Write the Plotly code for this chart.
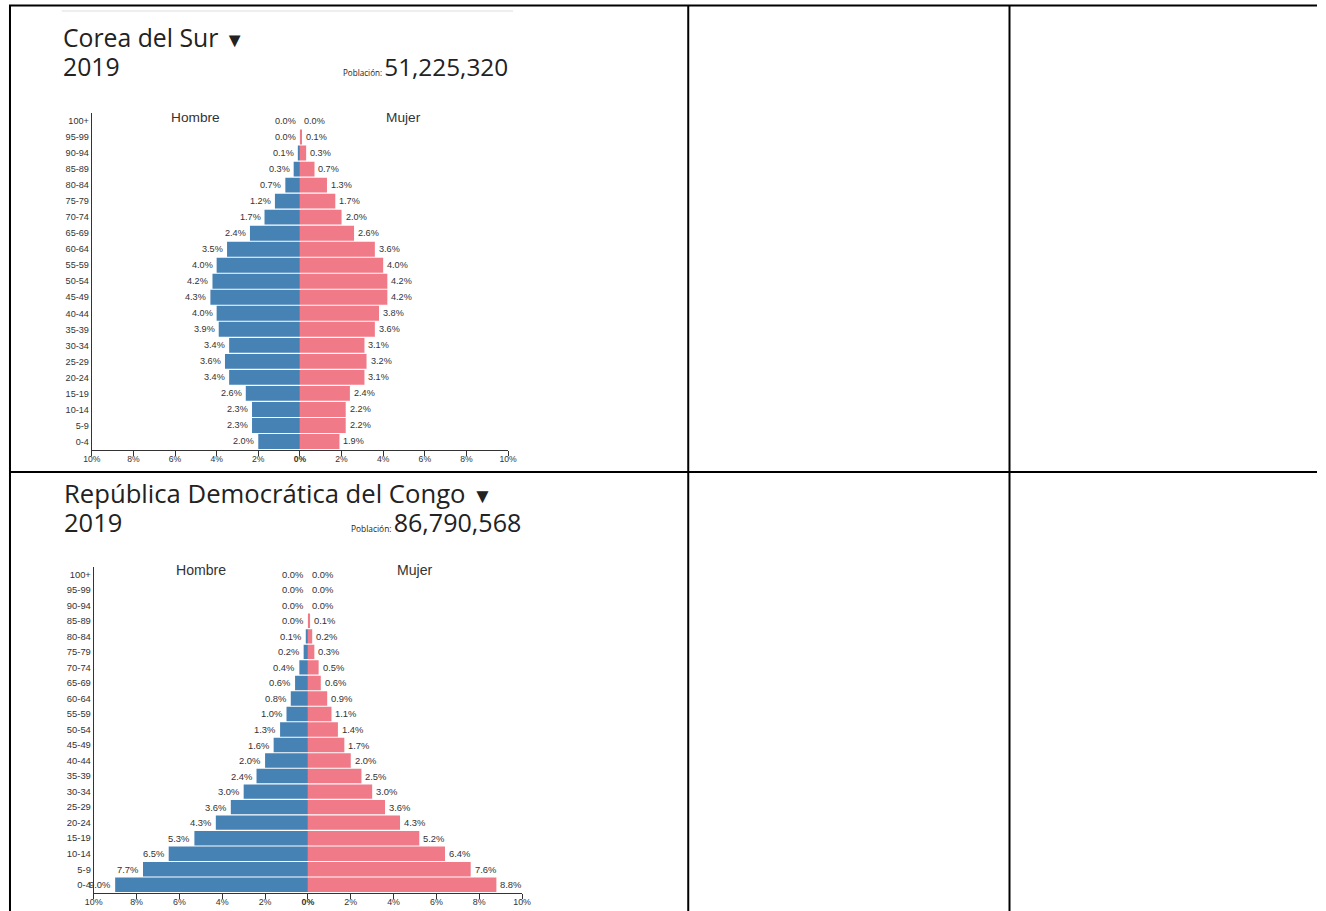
import plotly.graph_objects as go

W, H = 1326, 911

# ---------------- data (bottom row "0-4" first, up to "100+") ----------------
age_groups = ["0-4", "5-9", "10-14", "15-19", "20-24", "25-29", "30-34", "35-39",
              "40-44", "45-49", "50-54", "55-59", "60-64", "65-69", "70-74",
              "75-79", "80-84", "85-89", "90-94", "95-99", "100+"]

korea_male = [2.0, 2.3, 2.3, 2.6, 3.4, 3.6, 3.4, 3.9, 4.0, 4.3, 4.2, 4.0, 3.5, 2.4,
              1.7, 1.2, 0.7, 0.3, 0.1, 0.0, 0.0]
korea_female = [1.9, 2.2, 2.2, 2.4, 3.1, 3.2, 3.1, 3.6, 3.8, 4.2, 4.2, 4.0, 3.6, 2.6,
                2.0, 1.7, 1.3, 0.7, 0.3, 0.1, 0.0]

congo_male = [9.0, 7.7, 6.5, 5.3, 4.3, 3.6, 3.0, 2.4, 2.0, 1.6, 1.3, 1.0, 0.8, 0.6,
              0.4, 0.2, 0.1, 0.0, 0.0, 0.0, 0.0]
congo_female = [8.8, 7.6, 6.4, 5.2, 4.3, 3.6, 3.0, 2.5, 2.0, 1.7, 1.4, 1.1, 0.9, 0.6,
                0.5, 0.3, 0.2, 0.1, 0.0, 0.0, 0.0]

countries = ["Corea del Sur", "República Democrática del Congo"]
years = ["2019", "2019"]
populations = ["51,225,320", "86,790,568"]

tick_vals = [-10, -8, -6, -4, -2, 0, 2, 4, 6, 8, 10]
tick_text = ["10%", "8%", "6%", "4%", "2%", "<b>0%</b>", "2%", "4%", "6%", "8%", "10%"]

MALE_COLOR = "#4682B4"
FEMALE_COLOR = "#F07A88"
TEXT_COLOR = "#333333"
AXIS_COLOR = "#333333"
LABEL_FONT = "Liberation Sans, Arial, sans-serif"
TITLE_FONT = "Open Sans, sans-serif"

# the photographed page is squeezed slightly in x; place things so they land
# at the intended horizontal pixel positions
SX, OX = 0.9856, 9.33
FS = 1 / SX  # font widening to compensate


def px_x(x):
    fx = (x - OX) / SX
    return min(max(fx, 0), W) / W


def px_y(y):
    return 1 - y / H


# pixel layout of each pyramid and its header; "k" = text scale of the panel
panels = [
    dict(xdom=(92, 508), ydom=(113, 449.5), title_x=61, title_y=37, year_y=67,
         pop_right=510, k=1.0, kt=1.0),
    dict(xdom=(94, 522), ydom=(566.5, 892.5), title_x=62, title_y=493, year_y=522,
         pop_right=522.5, k=1.03, kt=1.037),
]

fig = go.Figure()
annotations = []
shapes = []

series = [(korea_male, korea_female), (congo_male, congo_female)]

for i, (panel, (male, female)) in enumerate(zip(panels, series)):
    k = panel["k"]
    kt = panel["kt"]
    xa = "x" if i == 0 else "x2"
    ya = "y" if i == 0 else "y2"
    fig.add_trace(go.Bar(
        y=age_groups, x=[-v for v in male], orientation="h",
        marker=dict(color=MALE_COLOR, line=dict(width=0)),
        xaxis=xa, yaxis=ya, showlegend=False, hoverinfo="skip",
    ))
    fig.add_trace(go.Bar(
        y=age_groups, x=female, orientation="h",
        marker=dict(color=FEMALE_COLOR, line=dict(width=0)),
        xaxis=xa, yaxis=ya, showlegend=False, hoverinfo="skip",
    ))
    # value labels
    for age, m, f in zip(age_groups, male, female):
        annotations.append(dict(
            x=-m, y=age, xref=xa, yref=ya, text=f"{m:.1f}%", showarrow=False,
            xanchor="right", yanchor="middle", xshift=-2,
            font=dict(family=LABEL_FONT, size=9 * k * FS, color=TEXT_COLOR)))
        annotations.append(dict(
            x=f, y=age, xref=xa, yref=ya, text=f"{f:.1f}%", showarrow=False,
            xanchor="left", yanchor="middle", xshift=2,
            font=dict(family=LABEL_FONT, size=9 * k * FS, color=TEXT_COLOR)))
    # Hombre / Mujer headers
    annotations.append(dict(
        x=-5, y=age_groups[-1], xref=xa, yref=ya, text="Hombre", showarrow=False,
        xanchor="center", yanchor="middle", yshift=4,
        font=dict(family=LABEL_FONT, size=13.5 * k * FS, color=TEXT_COLOR)))
    annotations.append(dict(
        x=5, y=age_groups[-1], xref=xa, yref=ya, text="Mujer", showarrow=False,
        xanchor="center", yanchor="middle", yshift=4,
        font=dict(family=LABEL_FONT, size=13.5 * k * FS, color=TEXT_COLOR)))
    # header texts
    annotations.append(dict(
        x=px_x(panel["title_x"]), y=px_y(panel["title_y"]), xref="paper", yref="paper",
        text=countries[i] + f" <span style='font-size:{20 * k:.1f}px'>▼</span>",
        showarrow=False, xanchor="left", yanchor="middle",
        font=dict(family=TITLE_FONT, size=24.4 * kt * FS, color="#222222")))
    annotations.append(dict(
        x=px_x(panel["title_x"]), y=px_y(panel["year_y"]), xref="paper", yref="paper",
        text=years[i], showarrow=False, xanchor="left", yanchor="middle",
        font=dict(family=TITLE_FONT, size=24.4 * k * FS, color="#222222")))
    annotations.append(dict(
        x=px_x(panel["pop_right"]), y=px_y(panel["year_y"]), xref="paper", yref="paper",
        text=f"<span style='font-size:{8 * k * FS:.1f}px'>Población: </span>" + populations[i],
        showarrow=False, xanchor="right", yanchor="middle",
        font=dict(family=TITLE_FONT, size=24 * k * FS, color="#222222")))

    xd = [px_x(panel["xdom"][0]), px_x(panel["xdom"][1])]
    yd = [px_y(panel["ydom"][1]), px_y(panel["ydom"][0])]
    xaxis_cfg = dict(
        domain=xd, range=[-10, 10], tickvals=tick_vals, ticktext=tick_text,
        showgrid=False, zeroline=False, showline=True, linecolor=AXIS_COLOR,
        linewidth=1, ticks="outside", ticklen=5, tickcolor=AXIS_COLOR,
        ticklabelstandoff=-4,
        tickfont=dict(family=LABEL_FONT, size=8.5 * k * FS, color=TEXT_COLOR),
        anchor=ya, fixedrange=True,
    )
    yaxis_cfg = dict(
        domain=yd, type="category", categoryorder="array", categoryarray=age_groups,
        range=[-0.5, len(age_groups) - 0.5], showgrid=False, zeroline=False,
        showline=True, linecolor=AXIS_COLOR, linewidth=1, ticks="",
        tickfont=dict(family=LABEL_FONT, size=9 * k * FS, color=TEXT_COLOR),
        anchor=xa, fixedrange=True,
    )
    if i == 0:
        fig.update_layout(xaxis=xaxis_cfg, yaxis=yaxis_cfg)
    else:
        fig.update_layout(xaxis2=xaxis_cfg, yaxis2=yaxis_cfg)

# table borders (page decoration)
border = dict(color="#000000", width=2)
left_edge = 1 / W
shapes += [
    dict(type="line", xref="paper", yref="paper", x0=0, x1=1, y0=px_y(5.5), y1=px_y(5.5), line=border),
    dict(type="line", xref="paper", yref="paper", x0=0, x1=1, y0=px_y(472), y1=px_y(472), line=border),
    dict(type="line", xref="paper", yref="paper", x0=left_edge, x1=left_edge, y0=0, y1=px_y(5), line=border),
    dict(type="line", xref="paper", yref="paper", x0=px_x(688), x1=px_x(688), y0=0, y1=px_y(5), line=border),
    dict(type="line", xref="paper", yref="paper", x0=px_x(1009), x1=px_x(1009), y0=0, y1=px_y(5), line=border),
    dict(type="line", xref="paper", yref="paper", x0=px_x(62), x1=px_x(513), y0=px_y(11), y1=px_y(11),
         line=dict(color="#dddddd", width=1)),
]

fig.update_layout(
    width=W, height=H, margin=dict(l=0, r=0, t=0, b=0),
    paper_bgcolor="white", plot_bgcolor="rgba(0,0,0,0)",
    barmode="relative", bargap=0.07,
    annotations=annotations, shapes=shapes, showlegend=False,
)

post = """
document.documentElement.style.margin='0';
document.body.style.margin='0';
document.body.style.overflow='hidden';
"""

fig.write_html("out.html", config={"displayModeBar": False}, post_script=post)
